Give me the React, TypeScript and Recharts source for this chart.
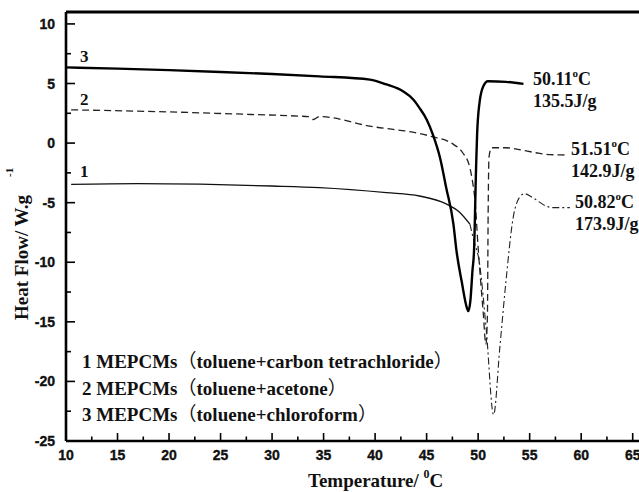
import React from 'react';
import { LineChart, Line, XAxis, YAxis, ReferenceLine } from 'recharts';

// Curve 3: MEPCMs (toluene+chloroform) — thick solid
const curve3T = [10, 15, 20, 25, 30, 34.6, 39.5, 41.1, 42.7, 43.7, 44.3, 45.0, 45.6, 46.3, 46.9, 47.6, 47.9, 48.4, 48.9, 49.05, 49.25, 49.45, 49.6, 49.8, 49.9, 50.15, 50.5, 50.95, 52.7, 54.4];
const curve3H = [6.35, 6.25, 6.12, 5.97, 5.8, 5.6, 5.33, 4.92, 4.35, 3.66, 2.96, 1.98, 0.73, -1.23, -3.74, -6.8, -9.05, -11.6, -13.8, -14.1, -13.2, -10.7, -9.05, -2.07, 0.73, 3.5, 4.77, 5.19, 5.14, 4.97];

// Curve 2: MEPCMs (toluene+acetone) — dashed
const curve2T = [10.5, 17, 23, 28, 32.7, 33.5, 34.0, 34.6, 39.5, 45.3, 47.6, 48.5, 49.2, 49.45, 49.7, 50.0, 50.5, 50.75, 50.9, 50.97, 51.05, 51.3, 52.7, 54.0, 55.6, 57.0, 58.5];
const curve2H = [2.79, 2.68, 2.54, 2.4, 2.26, 2.22, 1.98, 2.22, 1.42, 0.59, -0.11, -0.81, -2.07, -3.2, -4.86, -8.77, -14.3, -16.9, -14.5, -6.0, -1.2, -0.39, -0.39, -0.55, -0.81, -0.97, -1.0];

// Curve 1: MEPCMs (toluene+carbon tetrachloride) — thin solid, then dash-dot
const curve1aT = [10.5, 17, 23, 30, 34.6, 41.1, 44.3, 46.9, 48.2, 49.2];
const curve1aH = [-3.46, -3.4, -3.45, -3.6, -3.74, -4.16, -4.44, -5.1, -5.8, -6.8];
const curve1bT = [49.2, 49.5, 50.15, 50.8, 51.5, 52.1, 52.7, 53.4, 54.0, 54.5, 55.3, 56.6, 57.2, 58.9];
const curve1bH = [-6.8, -7.9, -10.2, -15.8, -22.8, -17.2, -11.6, -6.25, -4.58, -4.25, -4.58, -5.28, -5.42, -5.42];

const xTicks = [10, 12.5, 15, 17.5, 20, 22.5, 25, 27.5, 30, 32.5, 35, 37.5, 40, 42.5, 45, 47.5, 50, 52.5, 55, 57.5, 60, 62.5, 65];
const yTicks = [-25, -22.5, -20, -17.5, -15, -12.5, -10, -7.5, -5, -2.5, 0, 2.5, 5, 7.5, 10];

const curveLabels = ['1', '2', '3'];
const legendNums = ['1', '2', '3'];
const legendSolvents = ['toluene+carbon tetrachloride', 'toluene+acetone', 'toluene+chloroform'];
const peakTemps = ['50.11', '51.51', '50.82'];
const enthalpies = ['135.5J/g', '142.9J/g', '173.9J/g'];

const zip = (ts: number[], hs: number[]) => ts.map((t, i) => ({ t, h: hs[i] }));
const data3 = zip(curve3T, curve3H);
const data2 = zip(curve2T, curve2H);
const data1a = zip(curve1aT, curve1aH);
const data1b = zip(curve1bT, curve1bH);

const SERIF = '"Liberation Serif", "Times New Roman", serif';
const CJK = '"Noto Sans CJK SC", sans-serif';
const SANS = 'Arial, "Liberation Sans", sans-serif';

const XTick = (props: any) => {
  const { x, y, payload } = props;
  const v = payload.value;
  const major = v % 5 === 0;
  return (
    <g>
      <line x1={x} y1={y} x2={x} y2={y - (major ? 8 : 4.5)} stroke="#000" strokeWidth={1.6} />
      {major && (
        <text x={x} y={y + 19} textAnchor="middle" fontFamily={SANS} fontWeight="bold" fontSize={14} fill="#111" stroke="#111" strokeWidth={0.35}>
          {v}
        </text>
      )}
    </g>
  );
};

const YTick = (props: any) => {
  const { x, y, payload } = props;
  const v = payload.value;
  const major = v % 5 === 0;
  return (
    <g>
      <line x1={x} y1={y} x2={x + (major ? 9 : 5)} y2={y} stroke="#000" strokeWidth={1.6} />
      {major && (
        <text x={x - 11} y={y + 5} textAnchor="end" fontFamily={SANS} fontWeight="bold" fontSize={14} fill="#111" stroke="#111" strokeWidth={0.35}>
          {v}
        </text>
      )}
    </g>
  );
};

export default function App() {
  const annX = [533, 571, 575];
  const annY = [85, 155, 208];
  const curveLabelY = [177, 105, 62];
  const legendY = [368, 395, 421];
  return (
    <div style={{ position: 'absolute', left: 0, top: 0, width: 639, height: 492, overflow: 'hidden', background: '#fff' }}>
      <LineChart width={660} height={492} margin={{ top: 12, right: 17, bottom: 0, left: 6 }}>
        <XAxis
          type="number"
          dataKey="t"
          domain={[10, 66]}
          ticks={xTicks}
          interval={0}
          allowDataOverflow
          tick={<XTick />}
          tickLine={false}
          tickSize={0}
          tickMargin={0}
          height={51}
          axisLine={{ stroke: '#000', strokeWidth: 2.6 }}
        />
        <YAxis
          type="number"
          domain={[-25, 11]}
          ticks={yTicks}
          interval={0}
          allowDataOverflow
          tick={<YTick />}
          tickLine={false}
          tickSize={0}
          tickMargin={0}
          width={60}
          axisLine={{ stroke: '#000', strokeWidth: 2.6 }}
        />
        <ReferenceLine y={11} stroke="#000" strokeWidth={3} />
        <Line data={data1a} dataKey="h" type="monotone" stroke="#111" strokeWidth={1.3} dot={false} isAnimationActive={false} />
        <Line data={data1b} dataKey="h" type="monotone" stroke="#222" strokeWidth={1.1} strokeDasharray="7 3 2 3" dot={false} isAnimationActive={false} />
        <Line data={data2} dataKey="h" type="monotone" stroke="#222" strokeWidth={1.3} strokeDasharray="7 4" dot={false} isAnimationActive={false} />
        <Line data={data3} dataKey="h" type="monotone" stroke="#000" strokeWidth={2.4} dot={false} isAnimationActive={false} />
      </LineChart>
      <svg width={639} height={492} style={{ position: 'absolute', left: 0, top: 0, pointerEvents: 'none' }}>
        {curveLabels.map((c, i) => (
          <text key={c} x={80} y={curveLabelY[i]} fontFamily={SERIF} fontWeight="bold" fontSize={17} fill="#111">{c}</text>
        ))}
        {peakTemps.map((p, i) => (
          <g key={p}>
            <text x={annX[i]} y={annY[i]} fontFamily={SERIF} fontWeight="bold" fontSize={18} fill="#111">
              {p}
              <tspan fontSize={11} dy={-8}>o</tspan>
              <tspan dy={8}>C</tspan>
            </text>
            <text x={annX[i]} y={annY[i] + 21.5} fontFamily={SERIF} fontWeight="bold" fontSize={18} fill="#111">{enthalpies[i]}</text>
          </g>
        ))}
        {legendNums.map((n, i) => (
          <text key={n} x={82} y={legendY[i]} fontFamily={SERIF} fontWeight="bold" fontSize={19} fill="#111">
            {n + ' MEPCMs'}
            <tspan fontFamily={CJK} fontWeight="normal">（</tspan>
            <tspan>{legendSolvents[i]}</tspan>
            <tspan fontFamily={CJK} fontWeight="normal">）</tspan>
          </text>
        ))}
        <text x={308} y={487} fontFamily={SERIF} fontWeight="bold" fontSize={19} fill="#111">
          Temperature/ <tspan fontSize={12} dy={-9}>0</tspan>
          <tspan dy={9}>C</tspan>
        </text>
        <text transform="translate(28,320) rotate(-90)" x={0} y={0} fontFamily={SERIF} fontWeight="bold" fontSize={19} fill="#111">
          Heat Flow/ W.g<tspan fontSize={11} dx={18} dy={-15}>-1</tspan>
        </text>
      </svg>
    </div>
  );
}
